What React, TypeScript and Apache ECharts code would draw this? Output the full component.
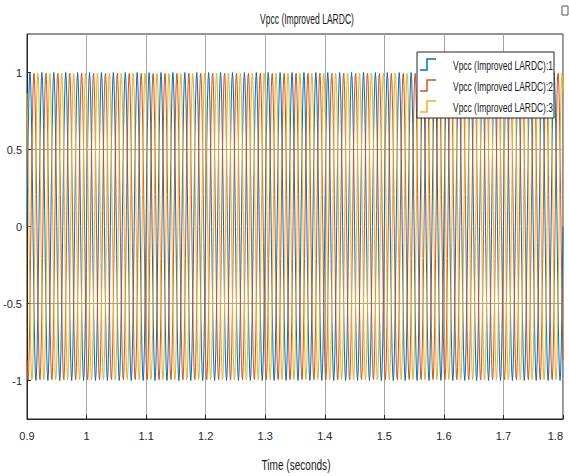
import React, { useEffect, useRef } from 'react';
import * as echarts from 'echarts';

// ---- data ----
const chartTitle = 'Vpcc (Improved LARDC)';
const xAxisName = 'Time (seconds)';
const seriesNames = [
  'Vpcc (Improved LARDC):1',
  'Vpcc (Improved LARDC):2',
  'Vpcc (Improved LARDC):3',
];
const seriesColors = ['#0072BD', '#D95319', '#EDB120'];
const startTime = 0.9; // s
const endTime = 1.8; // s
const sampleTime = 0.001; // s (zero-order-hold samples, 20 per 50 Hz cycle)
// one cycle of sampled values for each phase (peak about ±1 pu)
const phase1Cycle = [0, 0.309, 0.588, 0.809, 0.951, 1, 0.951, 0.809, 0.588, 0.309, 0, -0.309, -0.588, -0.809, -0.951, -1, -0.951, -0.809, -0.588, -0.309];
const phase2Cycle = [-0.866, -0.978, -0.995, -0.914, -0.743, -0.5, -0.208, 0.105, 0.407, 0.669, 0.866, 0.978, 0.995, 0.914, 0.743, 0.5, 0.208, -0.105, -0.407, -0.669];
const phase3Cycle = [0.866, 0.669, 0.407, 0.105, -0.208, -0.5, -0.743, -0.914, -0.995, -0.978, -0.866, -0.669, -0.407, -0.105, 0.208, 0.5, 0.743, 0.914, 0.995, 0.978];
const phaseCycles = [phase1Cycle, phase2Cycle, phase3Cycle];
const yTickLabels = [-1, -0.5, 0, 0.5, 1];

function buildPoints(cycle: number[]): [number, number][] {
  const n = Math.round((endTime - startTime) / sampleTime);
  const pts: [number, number][] = [];
  for (let i = 0; i <= n; i++) {
    pts.push([+(startTime + i * sampleTime).toFixed(4), cycle[i % cycle.length]]);
  }
  return pts;
}

const sans = "'Liberation Sans', Arial, sans-serif";
const textColor = '#1a1a1a';
const topZ = 100;

// legend box built from graphic elements (condensed text like the scope)
const legendLeft = 417;
const legendTop = 52;
const legendRowGap = 21;
function legendGraphic(): any[] {
  const items: any[] = [
    {
      type: 'rect',
      z: topZ,
      shape: { x: legendLeft, y: legendTop, width: 137, height: 66 },
      style: { fill: '#ffffff', stroke: '#262626', lineWidth: 1 },
    },
  ];
  seriesNames.forEach((name, i) => {
    const cy = legendTop + 13 + i * legendRowGap;
    items.push({
      type: 'polyline',
      z: topZ + 1,
      shape: {
        points: [
          [legendLeft + 3, cy + 5],
          [legendLeft + 10, cy + 5],
          [legendLeft + 10, cy - 6],
          [legendLeft + 19, cy - 6],
        ],
      },
      style: { stroke: seriesColors[i], lineWidth: 1.5, fill: null },
    });
    items.push({
      type: 'text',
      z: topZ + 1,
      x: legendLeft + 36,
      y: cy,
      scaleX: 0.65,
      style: {
        text: name,
        fontFamily: sans,
        fontSize: 13,
        fill: textColor,
        textAlign: 'left',
        textVerticalAlign: 'middle',
      },
    });
  });
  return items;
}

export default function App() {
  const ref = useRef<HTMLDivElement>(null);
  useEffect(() => {
    if (!ref.current) return;
    const chart = echarts.init(ref.current, undefined, { renderer: 'svg' });
    chart.setOption({
      animation: false,
      backgroundColor: '#ffffff',
      grid: {
        left: 27,
        right: 6,
        top: 34,
        bottom: 57,
        containLabel: false,
        outerBoundsMode: 'none',
        show: true,
        borderColor: '#262626',
        borderWidth: 1,
        backgroundColor: '#ffffff',
      },
      graphic: [
        {
          type: 'text',
          x: 307,
          y: 19,
          scaleX: 0.57,
          z: topZ,
          style: {
            text: chartTitle,
            fontFamily: sans,
            fontSize: 15,
            fill: textColor,
            textAlign: 'center',
            textVerticalAlign: 'middle',
          },
        },
        {
          type: 'text',
          x: 296,
          y: 465,
          scaleX: 0.72,
          z: topZ,
          style: {
            text: xAxisName,
            fontFamily: sans,
            fontSize: 14,
            fill: textColor,
            textAlign: 'center',
            textVerticalAlign: 'middle',
          },
        },
        {
          type: 'rect',
          z: topZ,
          shape: { x: 562, y: 6, width: 6, height: 9 },
          style: { fill: '#ffffff', stroke: '#555555', lineWidth: 1 },
        },
        ...legendGraphic(),
      ],
      xAxis: {
        type: 'value',
        min: startTime,
        max: endTime,
        interval: 0.1,
        axisLine: { show: true, onZero: false, lineStyle: { color: '#262626' } },
        axisTick: { show: true, inside: true, length: 4, lineStyle: { color: '#262626' } },
        axisLabel: {
          margin: 11,
          fontFamily: sans,
          fontSize: 11,
          color: '#262626',
          alignMaxLabel: 'right',
          formatter: (v: number) => String(+v.toFixed(2)),
        },
        splitLine: { show: true, lineStyle: { color: '#a6a6a6', width: 1 } },
      },
      yAxis: {
        type: 'value',
        min: -1.25,
        max: 1.25,
        interval: 0.25,
        axisLine: { show: true, onZero: false, lineStyle: { color: '#262626' } },
        axisTick: { show: true, inside: true, length: 4, customValues: yTickLabels, lineStyle: { color: '#262626' } },
        axisLabel: {
          margin: 5,
          fontFamily: sans,
          fontSize: 11,
          color: '#262626',
          formatter: (v: number) => {
            const r = +v.toFixed(2);
            return yTickLabels.indexOf(r) >= 0 ? String(r) : '';
          },
        },
        splitLine: {
          show: true,
          lineStyle: { color: ['rgba(0,0,0,0)', '#a6a6a6'], width: 1 },
        },
      },
      series: phaseCycles.map((cyc, i) => ({
        name: seriesNames[i],
        type: 'line',
        step: 'end',
        showSymbol: false,
        symbol: 'none',
        data: buildPoints(cyc),
        color: seriesColors[i],
        lineStyle: { color: seriesColors[i], width: 1 },
        emphasis: { disabled: true },
        silent: true,
      })),
    });
    return () => chart.dispose();
  }, []);
  return <div ref={ref} style={{ width: 569, height: 476, position: 'absolute', left: 0, top: 0 }} />;
}
